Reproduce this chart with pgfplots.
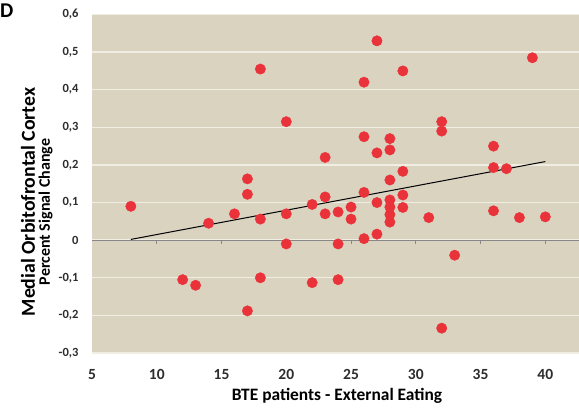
\documentclass[border=0pt]{standalone}
\usepackage{fontspec}
\setmainfont{Carlito}
\usepackage{pgfplots}
\pgfplotsset{compat=1.18}
\definecolor{bgc}{RGB}{217,211,192}
\definecolor{gridc}{RGB}{240,237,226}
\definecolor{ptc}{RGB}{234,50,58}
\definecolor{tickc}{RGB}{45,45,45}
\definecolor{zeroc}{RGB}{135,135,135}
\begin{document}
\begin{tikzpicture}[x=1pt,y=1pt]
\begin{axis}[
  at={(0,0)}, anchor=south west,
  scale only axis, width=487pt, height=338.5pt,
  xmin=5, xmax=42.6, ymin=-0.3, ymax=0.6,
  xtick={5,10,15,20,25,30,35,40},
  ytick={-0.3,-0.2,-0.1,0,0.1,0.2,0.3,0.4,0.5,0.6},
  yticklabels={{-0,3},{-0,2},{-0,1},{0},{0,1},{0,2},{0,3},{0,4},{0,5},{0,6}},
  axis line style={draw=none},
  major tick length=0pt,
  tick style={draw=none},
  axis background/.style={fill=bgc},
  ymajorgrids,
  major grid style={draw=gridc, line width=1.4pt},
  /pgf/number format/assume math mode=true,
  yticklabel style={font=\bfseries\fontsize{12.5}{12.5}\selectfont, text=tickc, xshift=-10pt},
  xticklabel style={font=\bfseries\fontsize{15.5}{15.5}\selectfont, text=tickc, yshift=-13pt},
  clip=false,
]
\draw[zeroc, line width=1.3pt] (axis cs:5,0) -- (axis cs:42.6,0);
\pgfplotsinvokeforeach{10,15,20,25,30,35,40}{
  \draw[zeroc, line width=1pt] (axis cs:#1,0) -- ([yshift=-4pt]axis cs:#1,0);
}
\addplot[black, line width=1pt, no marks] coordinates {(8,0.002) (40,0.209)};
\addplot[only marks, mark=*, mark size=5.2pt, mark options={fill=ptc, draw=ptc}] coordinates {
(8,0.09) (12,-0.105) (13,-0.12) (14,0.045) (16,0.07) (17,0.163) (17,0.122) (17,-0.188)
(18,0.455) (18,0.056) (18,-0.1) (20,0.315) (20,0.07) (20,-0.01) (22,0.095) (22,-0.113)
(23,0.22) (23,0.115) (23,0.07) (24,0.075) (24,-0.01) (24,-0.105) (25,0.088) (25,0.056)
(26,0.42) (26,0.275) (26,0.127) (26,0.004) (27,0.53) (27,0.232) (27,0.10) (27,0.016)
(28,0.27) (28,0.24) (28,0.16) (28,0.107) (28,0.088) (28,0.068) (28,0.048)
(29,0.45) (29,0.183) (29,0.12) (29,0.087) (31,0.06) (32,0.315) (32,0.29) (32,-0.234)
(33,-0.04) (36,0.25) (36,0.193) (36,0.078) (37,0.19) (38,0.06) (39,0.485) (40,0.062)
};
\end{axis}
\node[font=\bfseries\fontsize{17.4}{17.4}\selectfont, anchor=base] at (245,-48) {BTE patients - External Eating};
\node[font=\bfseries\fontsize{19.8}{19.8}\selectfont, rotate=90, anchor=base] at (-57,151) {Medial Orbitofrontal Cortex};
\node[font=\bfseries\fontsize{16}{16}\selectfont, rotate=90, anchor=base] at (-42,141) {Percent Signal Change};
\node[font=\bfseries\fontsize{21}{21}\selectfont, anchor=base west, inner sep=0pt] at (-92,335) {D};
\pgfresetboundingbox
\path[use as bounding box] (-92,-56) rectangle (487,353);
\end{tikzpicture}
\end{document}
